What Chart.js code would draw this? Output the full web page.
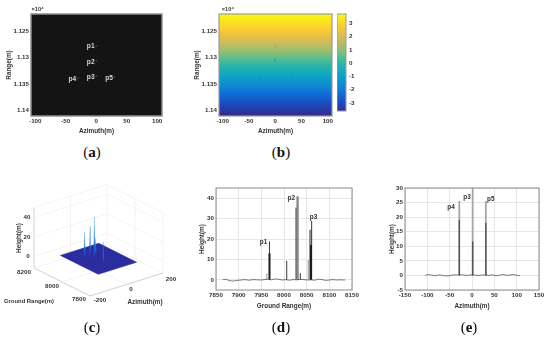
<!DOCTYPE html>
<html>
<head>
<meta charset="utf-8">
<script src="https://cdn.jsdelivr.net/npm/chart.js@4"></script>
<style>
  html, body { margin: 0; padding: 0; background: #fff; }
  body { position: relative; width: 550px; height: 340px; overflow: hidden; }
  canvas { position: absolute; }
  .caption { position: absolute; width: 40px; text-align: center; font: 15px "Liberation Serif", serif; color: #111; }
</style>
</head>
<body>
<script>
// Point targets, panels (a) and (b)
const targetNames = ['p1', 'p2', 'p3', 'p4', 'p5'];
const targetAzimuth = [0, 0, 0, -30, 30];
const targetRange = [11278, 11306, 11335, 11339, 11337];
const targetPhase = [0.9, -0.6, -1.1, -1.5, -1.4];

// Phase read down the panel (b) image, and the colorbar ticks
const phaseRowRange = [11217, 11230, 11250, 11270, 11290, 11310, 11330, 11350, 11370, 11390, 11411];
const phaseRowValue = [3.7, 3.3, 2.7, 1.9, 1.0, 0.1, -0.7, -1.5, -2.35, -3.1, -3.7];
const colorbarLevels = [3.7, 3, 2, 1, 0, -1, -2, -3, -3.6];
const colorbarTicks = [-3, -2, -1, 0, 1, 2, 3];

const azimuthTicks = [-100, -50, 0, 50, 100];
const rangeTicks = [11250, 11300, 11350, 11400];
const rangeTickLabels = ['1.125', '1.13', '1.135', '1.14'];

// Panel (c), peaks on the ground plane
const surfaceAzimuth = [-105, 105];
const surfaceRange = [7865, 8135];
const peakAzimuth = [-30, 0, 0, 30, 0];
const peakRange = [8060, 8060, 8030, 8060, 7968];
const peakHeight = [25, 29, 41, 15, 19];

// Panel (d), profile along ground range
const groundBaseX = [7865, 7872, 7880, 7888, 7896, 7905, 7914, 7923, 7932, 7941, 7950, 7958, 7964, 7972, 7980, 7988, 7996, 8004, 8012, 8020, 8028, 8036, 8044, 8052, 8060, 8068, 8076, 8084, 8092, 8100, 8108, 8116, 8124, 8135];
const groundBaseY = [0.1, 0.2, -0.4, -0.6, -0.3, -0.1, 0.1, -0.2, 0.1, 0, -0.1, 0.2, 0.3, 0, 0.4, 0.3, -0.1, 0.1, -0.2, 0.1, 0, 0.2, 0.1, -0.1, 0, -0.2, 0.3, 0.1, -0.3, -0.1, 0.1, -0.1, 0, -0.1];
const groundThinX = [7968, 8006, 8026.5, 8036, 8061];
const groundThinY = [18.8, 9.3, 35.4, 3.3, 28.9];
const groundWideX = [8030, 8058];
const groundWideY = [41, 24.5];
const groundPaleX = [7962, 8053.6];
const groundPaleY = [3.2, 9.7];
const groundCoreX = [7968, 8059.5];
const groundCoreY = [13, 17];

// Panel (e), profile along azimuth
const azimuthBaseX = [-105, -98, -90, -82, -74, -66, -58, -50, -42, -34, -26, -18, -10, -2, 6, 14, 22, 30, 38, 46, 54, 62, 70, 78, 86, 94, 100, 107];
const azimuthBaseY = [0, 0.3, 0.1, -0.1, 0.2, 0, -0.2, -0.1, 0.2, 0.1, 0.3, 0.1, 0, 0.2, 0.1, 0, 0.1, 0.2, 0, 0.2, -0.1, 0.1, 0.3, 0, 0.2, 0.3, 0, 0];
const azimuthSpikeX = [-28.4, 1.5, 31];
const azimuthSpikeY = [25.5, 30, 25.5];
const azimuthDarkX = [-28.4, 1.5, 31];
const azimuthDarkY = [19, 11.6, 18];

const fontFamily = '"Liberation Sans", Arial, sans-serif';
const tickFont = { family: fontFamily, size: 6.2, weight: 'bold' };
const titleFont = { family: fontFamily, size: 6.4, weight: 'bold' };
const textColor = '#333333';
Chart.defaults.animation = false;
Chart.defaults.responsive = false;
Chart.defaults.font.family = fontFamily;

// Parula colours, by position along the colour scale
const parulaStops = [[53, 42, 135], [15, 88, 214], [20, 129, 214], [6, 164, 202], [46, 183, 164], [135, 191, 119], [209, 187, 89], [254, 200, 50], [249, 251, 14]];
function parula(value) {
    const t = Math.max(0, Math.min(1, (value + 3.7) / 7.4)) * (parulaStops.length - 1);
    const i = Math.min(parulaStops.length - 2, Math.floor(t));
    const c = parulaStops[i].map((v, k) => Math.round(v + (parulaStops[i + 1][k] - v) * (t - i)));
    return `rgb(${c[0]},${c[1]},${c[2]})`;
}

// Gradient over the y scale, from rows of value and position
function phaseGradient(context, rows, values) {
    const chart = context.chart;
    const y = chart.scales.y;
    if (!chart.chartArea || !y) return '#2a9ad0';
    const gradient = chart.ctx.createLinearGradient(0, y.top, 0, y.bottom);
    rows.forEach((row, i) => {
        const stop = (y.getPixelForValue(row) - y.top) / (y.bottom - y.top);
        gradient.addColorStop(Math.max(0, Math.min(1, stop)), parula(values[i]));
    });
    return gradient;
}

function xy(xs, ys) {
    return xs.map((x, i) => ({ x: x, y: ys[i] }));
}

// Spikes rising from zero, with a break between them
function spikes(xs, tops) {
    return xs.flatMap((x, i) => [{ x: x, y: 0 }, { x: x, y: tops[i] }, { x: x, y: null }]);
}

function lineSet(data, color, width) {
    return { data: data, showLine: true, pointRadius: 0, borderColor: color, borderWidth: width, tension: 0 };
}

// Frame and background of the plot area
const framePlugin = {
    id: 'frame',
    beforeDatasetsDraw(chart, args, opts) {
        if (opts.fill) {
            const a = chart.chartArea;
            chart.ctx.fillStyle = opts.fill;
            chart.ctx.fillRect(a.left, a.top, a.right - a.left, a.bottom - a.top);
        }
    },
    afterDatasetsDraw(chart, args, opts) {
        if (!opts.color) return;
        const a = chart.chartArea;
        chart.ctx.strokeStyle = opts.color;
        chart.ctx.lineWidth = opts.width || 1;
        chart.ctx.strokeRect(a.left, a.top, a.right - a.left, a.bottom - a.top);
    }
};
Chart.register(framePlugin);

// Text placed by data position
function textPlugin(items) {
    return {
        id: 'panelText',
        afterDraw(chart) {
            const ctx = chart.ctx;
            items.forEach(item => {
                ctx.save();
                ctx.fillStyle = item.color || textColor;
                ctx.font = `bold ${item.size || 6.4}px ${fontFamily}`;
                ctx.textAlign = 'center';
                ctx.textBaseline = 'middle';
                ctx.translate(chart.scales.x.getPixelForValue(item.x), chart.scales.y.getPixelForValue(item.y));
                if (item.rotate) ctx.rotate(item.rotate);
                ctx.fillText(item.text, 0, 0);
                ctx.restore();
            });
        }
    };
}

function fixedTicks(values) {
    return scale => { scale.ticks = values.map(v => ({ value: v })); };
}

// Chart with a fixed plot box, l r t b are page pixels
function panel(plot, titleX, titleBottom, datasets, scales, extra) {
    const canvas = document.createElement('canvas');
    const left = titleX;
    const top = plot.t - 12;
    const right = plot.r + 12;
    canvas.width = right - left;
    canvas.height = titleBottom - top;
    canvas.style.left = left + 'px';
    canvas.style.top = top + 'px';
    document.body.appendChild(canvas);
    const yWidth = plot.l - left;
    const xHeight = titleBottom - plot.b;
    const axisBase = {
        border: { display: false },
        ticks: { font: tickFont, color: textColor, padding: 2, maxRotation: 0, autoSkip: false, callback: v => String(v) },
    };
    return new Chart(canvas.getContext('2d'), {
        type: 'scatter',
        data: { datasets: datasets },
        options: {
            layout: { padding: { top: 12, right: extra.rightAxis ? 0 : 12, left: 0, bottom: extra.rightAxis ? 6 : 0 } },
            plugins: {
                legend: { display: false },
                tooltip: { enabled: false },
                frame: extra.frame || { color: '#8a8a8a', width: 1 },
            },
            scales: {
                x: Object.assign({}, axisBase, { afterFit: s => { s.height = xHeight; } }, scales.x,
                    { ticks: Object.assign({}, axisBase.ticks, scales.x.ticks) }),
                y: Object.assign({}, axisBase, { afterFit: s => { s.width = yWidth; } }, scales.y,
                    { ticks: Object.assign({}, axisBase.ticks, scales.y.ticks) }),
            }
        },
        plugins: [textPlugin(extra.text || [])]
    });
}

const noGrid = { display: false, drawTicks: false };
const lightGrid = { color: '#e6e6e6', lineWidth: 1, drawTicks: false };
function axisTitle(text) {
    return { display: true, text: text, color: textColor, font: titleFont, padding: 0 };
}

function azimuthAxis() {
    return { min: -107, max: 108, grid: noGrid, title: axisTitle('Azimuth(m)'), afterBuildTicks: fixedTicks(azimuthTicks) };
}
function rangeAxis() {
    return {
        min: 11217, max: 11411, reverse: true, grid: noGrid, title: axisTitle('Range(m)'),
        afterBuildTicks: fixedTicks(rangeTicks),
        ticks: { callback: v => rangeTickLabels[rangeTicks.indexOf(v)] }
    };
}

// (a) amplitude image
panel({ l: 31, r: 162, t: 14, b: 116 }, 5, 135, [
    Object.assign(lineSet(xy(targetAzimuth, targetRange), '#999999', 0), { showLine: false, pointRadius: 0.6, pointBackgroundColor: '#777777' })
], { x: azimuthAxis(), y: rangeAxis() }, {
    frame: { color: '#8f8f8f', width: 1.5, fill: '#141414' },
    text: targetNames.map((name, i) => ({ x: targetAzimuth[i] - 9, y: targetRange[i] + (i === 0 ? 0 : 2), text: name, color: '#d8d8d8', size: 6.6 }))
        .concat([{ x: -96, y: 11209, text: '×10⁴', size: 5.6 }])
});

// (b) phase image
panel({ l: 219, r: 332, t: 14, b: 116 }, 193, 135, [
    Object.assign(lineSet(xy(targetAzimuth, targetRange), '#000000', 0), {
        showLine: false, pointRadius: 1.2, pointBorderWidth: 0,
        pointBackgroundColor: targetPhase.map(parula)
    }),
    Object.assign(lineSet([{ x: -107, y: 11411 }, { x: 108, y: 11411 }], 'rgba(0,0,0,0)', 0), {
        fill: 'end',
        backgroundColor: c => phaseGradient(c, phaseRowRange, phaseRowValue)
    })
], { x: azimuthAxis(), y: rangeAxis() }, {
    frame: { color: '#9a9a9a', width: 1.2 },
    text: [{ x: -90, y: 11209, text: '×10⁴', size: 5.6 }]
});

// colorbar of (b)
panel({ l: 337, r: 346, t: 14, b: 117 }, 337, 123, [
    Object.assign(lineSet([{ x: 0, y: -3.6 }, { x: 1, y: -3.6 }], 'rgba(0,0,0,0)', 0), {
        fill: 'end',
        backgroundColor: c => phaseGradient(c, colorbarLevels, colorbarLevels)
    })
], {
    x: { min: 0, max: 1, display: false },
    y: { min: -3.6, max: 3.7, position: 'right', grid: noGrid, afterBuildTicks: fixedTicks(colorbarTicks), ticks: { padding: 3 }, afterFit: s => { s.width = 12; } }
}, { frame: { color: '#9a9a9a', width: 1 }, rightAxis: true });

// (c) 3D surface, projected on a flat view plane
function project(az, range, height) {
    const a = (az + 200) / 400;
    const b = (range - 7800) / 400;
    return {
        x: 90 + a * 73 - b * 56,
        y: 296 - a * 23 - b * 28 - (height + 12) * 0.975
    };
}
const boxBottom = -12;
const boxTop = 50;
function edge(a0, r0, h0, a1, r1, h1) {
    return [project(a0, r0, h0), project(a1, r1, h1)];
}
const wireSets = [];
// walls and floor grid
[[-200, 8200, boxBottom, 200, 8200, boxBottom], [200, 7800, boxBottom, 200, 8200, boxBottom],
 [200, 8200, boxBottom, 200, 8200, boxTop], [200, 7800, boxBottom, 200, 7800, boxTop],
 [-200, 8200, boxTop, 200, 8200, boxTop], [200, 7800, boxTop, 200, 8200, boxTop],
 [0, 7800, boxBottom, 0, 8200, boxBottom], [-200, 8000, boxBottom, 200, 8000, boxBottom],
 [0, 8200, boxBottom, 0, 8200, boxTop], [200, 8000, boxBottom, 200, 8000, boxTop],
 [-200, 8200, 0, 200, 8200, 0], [200, 7800, 0, 200, 8200, 0],
 [-200, 8200, 20, 200, 8200, 20], [200, 7800, 20, 200, 8200, 20],
 [-200, 8200, 40, 200, 8200, 40], [200, 7800, 40, 200, 8200, 40]
].forEach(e => wireSets.push(lineSet(edge(...e), '#f0f0f0', 0.8)));
// front edges and height axis
[[-200, 7800, boxBottom, 200, 7800, boxBottom], [-200, 7800, boxBottom, -200, 8200, boxBottom],
 [-200, 8200, boxBottom, -200, 8200, boxTop]
].forEach(e => wireSets.push(lineSet(edge(...e), '#c4c4c4', 0.8)));

const peakSets = peakAzimuth.map((az, i) => {
    const r = peakRange[i];
    const h = peakHeight[i];
    return Object.assign(lineSet([project(az - 11, r - 9, 0), project(az - 1, r - 1, h), project(az + 1, r + 1, h), project(az + 11, r + 9, 0), project(az - 11, r - 9, 0)], 'rgba(31,111,220,0.5)', 0.3), {
        fill: 'shape',
        backgroundColor: c => {
            const chart = c.chart;
            if (!chart.chartArea) return '#1f6fdc';
            const y0 = chart.scales.y.getPixelForValue(project(az, r, 0).y);
            const y1 = chart.scales.y.getPixelForValue(project(az, r, h).y);
            const g = chart.ctx.createLinearGradient(0, y0, 0, y1);
            g.addColorStop(0, '#2438b8');
            g.addColorStop(0.4, '#1a7ee0');
            g.addColorStop(1, '#40c8c4');
            return g;
        }
    });
});

const surfaceCorners = [
    project(surfaceAzimuth[0], surfaceRange[0], 0), project(surfaceAzimuth[1], surfaceRange[0], 0),
    project(surfaceAzimuth[1], surfaceRange[1], 0), project(surfaceAzimuth[0], surfaceRange[1], 0),
    project(surfaceAzimuth[0], surfaceRange[0], 0)
];
const surfaceSet = Object.assign(lineSet(surfaceCorners, '#2b2c9e', 0.6), { fill: 'shape', backgroundColor: '#2b2c9e' });

const viewText = [
    { x: 19, y: 238, text: 'Height(m)', rotate: -Math.PI / 2 },
    { x: 27, y: 217, text: '40', size: 6.2 }, { x: 27, y: 237, text: '20', size: 6.2 }, { x: 28, y: 256, text: '0', size: 6.2 },
    { x: 24, y: 272, text: '8200', size: 6.2 }, { x: 52, y: 286, text: '8000', size: 6.2 }, { x: 79, y: 299, text: '7800', size: 6.2 },
    { x: 100, y: 300, text: '-200', size: 6.2 }, { x: 131, y: 289, text: '0', size: 6.2 }, { x: 171, y: 279, text: '200', size: 6.2 },
    { x: 29, y: 301, text: 'Ground Range(m)', size: 5.9 }, { x: 145, y: 302, text: 'Azimuth(m)' }
];

const surfaceCanvas = document.createElement('canvas');
surfaceCanvas.width = 190;
surfaceCanvas.height = 150;
surfaceCanvas.style.left = '0px';
surfaceCanvas.style.top = '175px';
document.body.appendChild(surfaceCanvas);
new Chart(surfaceCanvas.getContext('2d'), {
    type: 'scatter',
    data: { datasets: peakSets.concat([surfaceSet], wireSets) },
    options: {
        plugins: { legend: { display: false }, tooltip: { enabled: false }, frame: {} },
        scales: {
            x: { min: 0, max: 190, display: false },
            y: { min: 175, max: 325, reverse: true, display: false }
        }
    },
    plugins: [textPlugin(viewText)]
});

// (d) ground range profile
panel({ l: 216, r: 352, t: 188, b: 290 }, 198, 310, [
    lineSet(xy(groundBaseX, groundBaseY), '#444444', 0.7),
    lineSet(spikes(groundCoreX, groundCoreY), '#1c1c1c', 2),
    lineSet(spikes(groundThinX, groundThinY), '#3a3a3a', 1),
    lineSet(spikes(groundWideX, groundWideY), '#8c8c8c', 2.4),
    lineSet(spikes(groundPaleX, groundPaleY), '#a8a8a8', 1.2)
], {
    x: { min: 7850, max: 8150, grid: lightGrid, title: axisTitle('Ground Range(m)'), afterBuildTicks: fixedTicks([7850, 7900, 7950, 8000, 8050, 8100, 8150]) },
    y: { min: -5, max: 45, grid: lightGrid, title: axisTitle('Height(m)'), afterBuildTicks: fixedTicks([0, 10, 20, 30, 40]) }
}, {
    text: [
        { x: 7955, y: 18.5, text: targetNames[0] },
        { x: 8016, y: 39.8, text: targetNames[1] },
        { x: 8065, y: 30.5, text: targetNames[2] }
    ]
});

// (e) azimuth profile
panel({ l: 405, r: 539, t: 188, b: 290 }, 388, 310, [
    lineSet(xy(azimuthBaseX, azimuthBaseY), '#444444', 0.7),
    lineSet(spikes(azimuthDarkX, azimuthDarkY), '#555555', 1.4),
    lineSet(spikes(azimuthSpikeX, azimuthSpikeY), '#a6a6a6', 1.8)
], {
    x: { min: -150, max: 150, grid: lightGrid, title: axisTitle('Azimuth(m)'), afterBuildTicks: fixedTicks([-150, -100, -50, 0, 50, 100, 150]) },
    y: { min: -5, max: 30, grid: lightGrid, title: axisTitle('Height(m)'), afterBuildTicks: fixedTicks([-5, 0, 5, 10, 15, 20, 25, 30]) }
}, {
    text: [
        { x: -47, y: 23.5, text: targetNames[3] },
        { x: -11, y: 26.7, text: targetNames[2] },
        { x: 42, y: 26.2, text: targetNames[4] }
    ]
});

// Panel captions
const captionLetters = ['a', 'b', 'c', 'd', 'e'];
const captionX = [92, 281, 92, 281, 469];
const captionY = [144, 144, 319, 319, 319];
captionLetters.forEach((letter, i) => {
    const div = document.createElement('div');
    div.className = 'caption';
    div.style.left = (captionX[i] - 20) + 'px';
    div.style.top = captionY[i] + 'px';
    div.innerHTML = '(<b>' + letter + '</b>)';
    document.body.appendChild(div);
});
</script>
</body>
</html>
